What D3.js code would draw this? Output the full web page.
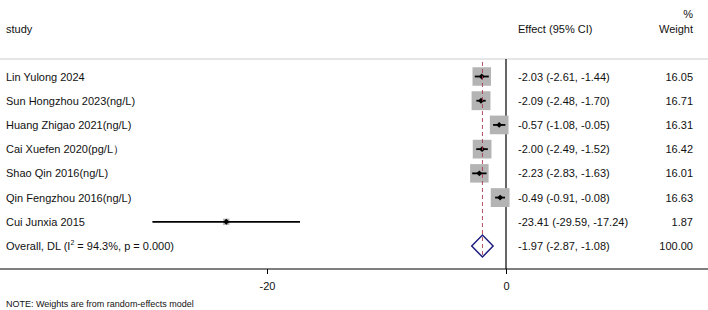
<!DOCTYPE html>
<html>
<head>
<meta charset="UTF-8">
<script src="https://d3js.org/d3.v7.min.js"></script>
<style>
  body { margin: 0; background: #fff; }
  text { font-family: "Liberation Sans", Arial, sans-serif; fill: #111; }
</style>
</head>
<body>
<svg id="chart"></svg>
<script>
const studies = ["Lin Yulong 2024", "Sun Hongzhou 2023(ng/L)", "Huang Zhigao 2021(ng/L)",
  "Cai Xuefen 2020(pg/L\uFF09", "Shao Qin 2016(ng/L)", "Qin Fengzhou 2016(ng/L)", "Cui Junxia 2015"];
const effect = [-2.03, -2.09, -0.57, -2.00, -2.23, -0.49, -23.41];
const lower = [-2.61, -2.48, -1.08, -2.49, -2.83, -0.91, -29.59];
const upper = [-1.44, -1.70, -0.05, -1.52, -1.63, -0.08, -17.24];
const weight = [16.05, 16.71, 16.31, 16.42, 16.01, 16.63, 1.87];
const overall = { es: -1.97, lo: -2.87, hi: -1.08, w: 100.00 };
const xTicks = [-20, 0];

const width = 708, height = 310;
const svg = d3.select("#chart").attr("width", width).attr("height", height);

const x = d3.scaleLinear().domain([-20, 0]).range([267, 506]);
const rows = [...studies, "overall"];
const y = d3.scalePoint().domain(d3.range(rows.length)).range([76.5, 246]);
const boxSide = d3.scaleSqrt().domain([0, 16.05]).range([0, 18.5]);
// plain hyphen minus like the original
const fmt = v => d3.format(".2f")(v).replace("\u2212", "-");

const headerY = 59, axisY = 269;

// header
svg.append("text").attr("x", 6).attr("y", 33).attr("font-size", 11).text("study");
svg.append("text").attr("x", 518).attr("y", 33).attr("font-size", 11).text("Effect (95% CI)");
svg.append("text").attr("x", 693).attr("y", 33).attr("font-size", 11).attr("text-anchor", "end").text("Weight");
svg.append("text").attr("x", 693).attr("y", 18).attr("font-size", 11).attr("text-anchor", "end").text("%");
svg.append("line").attr("x1", 0).attr("x2", width).attr("y1", headerY).attr("y2", headerY)
  .attr("stroke", "#ccc").attr("stroke-width", 1);

// null line
svg.append("line").attr("x1", x(0)).attr("x2", x(0)).attr("y1", headerY).attr("y2", axisY)
  .attr("stroke", "#000").attr("stroke-width", 1.2);

// study rows
const g = svg.append("g");
const idx = d3.range(studies.length);

g.selectAll("rect.box").data(idx).join("rect")
  .attr("class", "box")
  .attr("x", i => x(effect[i]) - boxSide(weight[i]) / 2)
  .attr("y", i => y(i) - boxSide(weight[i]) / 2)
  .attr("width", i => boxSide(weight[i]))
  .attr("height", i => boxSide(weight[i]))
  .attr("fill", "#b4b4b4");

// overall dashed line, over the boxes
svg.append("line").attr("x1", x(overall.es)).attr("x2", x(overall.es))
  .attr("y1", 62).attr("y2", 258)
  .attr("stroke", "#a4374a").attr("stroke-width", 1).attr("stroke-dasharray", "4,3")
  .attr("stroke-opacity", 0.85);

g.selectAll("line.ci").data(idx).join("line")
  .attr("class", "ci")
  .attr("x1", i => x(lower[i])).attr("x2", i => x(upper[i]))
  .attr("y1", i => y(i)).attr("y2", i => y(i))
  .attr("stroke", "#000").attr("stroke-width", 1.8);

g.selectAll("path.pt").data(idx).join("path")
  .attr("class", "pt")
  .attr("transform", i => `translate(${x(effect[i])},${y(i)})`)
  .attr("d", d3.symbol(d3.symbolDiamond2, 22))
  .attr("fill", "#000");

g.selectAll("text.lab").data(idx).join("text")
  .attr("class", "lab")
  .attr("x", 6).attr("y", i => y(i) + 4).attr("font-size", 11)
  .text(i => studies[i]);

g.selectAll("text.es").data(idx).join("text")
  .attr("class", "es")
  .attr("x", 518).attr("y", i => y(i) + 4).attr("font-size", 11)
  .text(i => `${fmt(effect[i])} (${fmt(lower[i])}, ${fmt(upper[i])})`);

g.selectAll("text.w").data(idx).join("text")
  .attr("class", "w")
  .attr("x", 693).attr("y", i => y(i) + 4).attr("font-size", 11).attr("text-anchor", "end")
  .text(i => fmt(weight[i]));

// overall row
const oy = y(studies.length);
svg.append("path")
  .attr("d", `M${x(overall.lo)},${oy} L${x(overall.es)},${oy - 11} L${x(overall.hi)},${oy} L${x(overall.es)},${oy + 11} Z`)
  .attr("fill", "none").attr("stroke", "#1f1f7f").attr("stroke-width", 1.5);

const ot = svg.append("text").attr("x", 6).attr("y", oy + 4).attr("font-size", 11);
ot.append("tspan").text("Overall, DL (I");
ot.append("tspan").attr("font-size", 7).attr("dy", -5).text("2");
ot.append("tspan").attr("dy", 5).text(" = 94.3%, p = 0.000)");

svg.append("text").attr("x", 518).attr("y", oy + 4).attr("font-size", 11)
  .text(`${fmt(overall.es)} (${fmt(overall.lo)}, ${fmt(overall.hi)})`);
svg.append("text").attr("x", 693).attr("y", oy + 4).attr("font-size", 11).attr("text-anchor", "end")
  .text(fmt(overall.w));

// axis
const axis = svg.append("g").attr("transform", `translate(0,${axisY})`)
  .call(d3.axisBottom(x).tickValues(xTicks).tickFormat(d => String(d)).tickSize(5).tickPadding(8));
axis.select(".domain").remove();
axis.selectAll(".tick line").attr("stroke", "#000");
axis.selectAll(".tick text").attr("font-size", 11).attr("fill", "#111")
  .attr("font-family", "Liberation Sans, Arial, sans-serif");
svg.append("line").attr("x1", 0).attr("x2", width).attr("y1", axisY).attr("y2", axisY)
  .attr("stroke", "#000").attr("stroke-width", 1.2);

// note
svg.append("text").attr("x", 6).attr("y", 307).attr("font-size", 9)
  .text("NOTE: Weights are from random-effects model");
</script>
</body>
</html>
